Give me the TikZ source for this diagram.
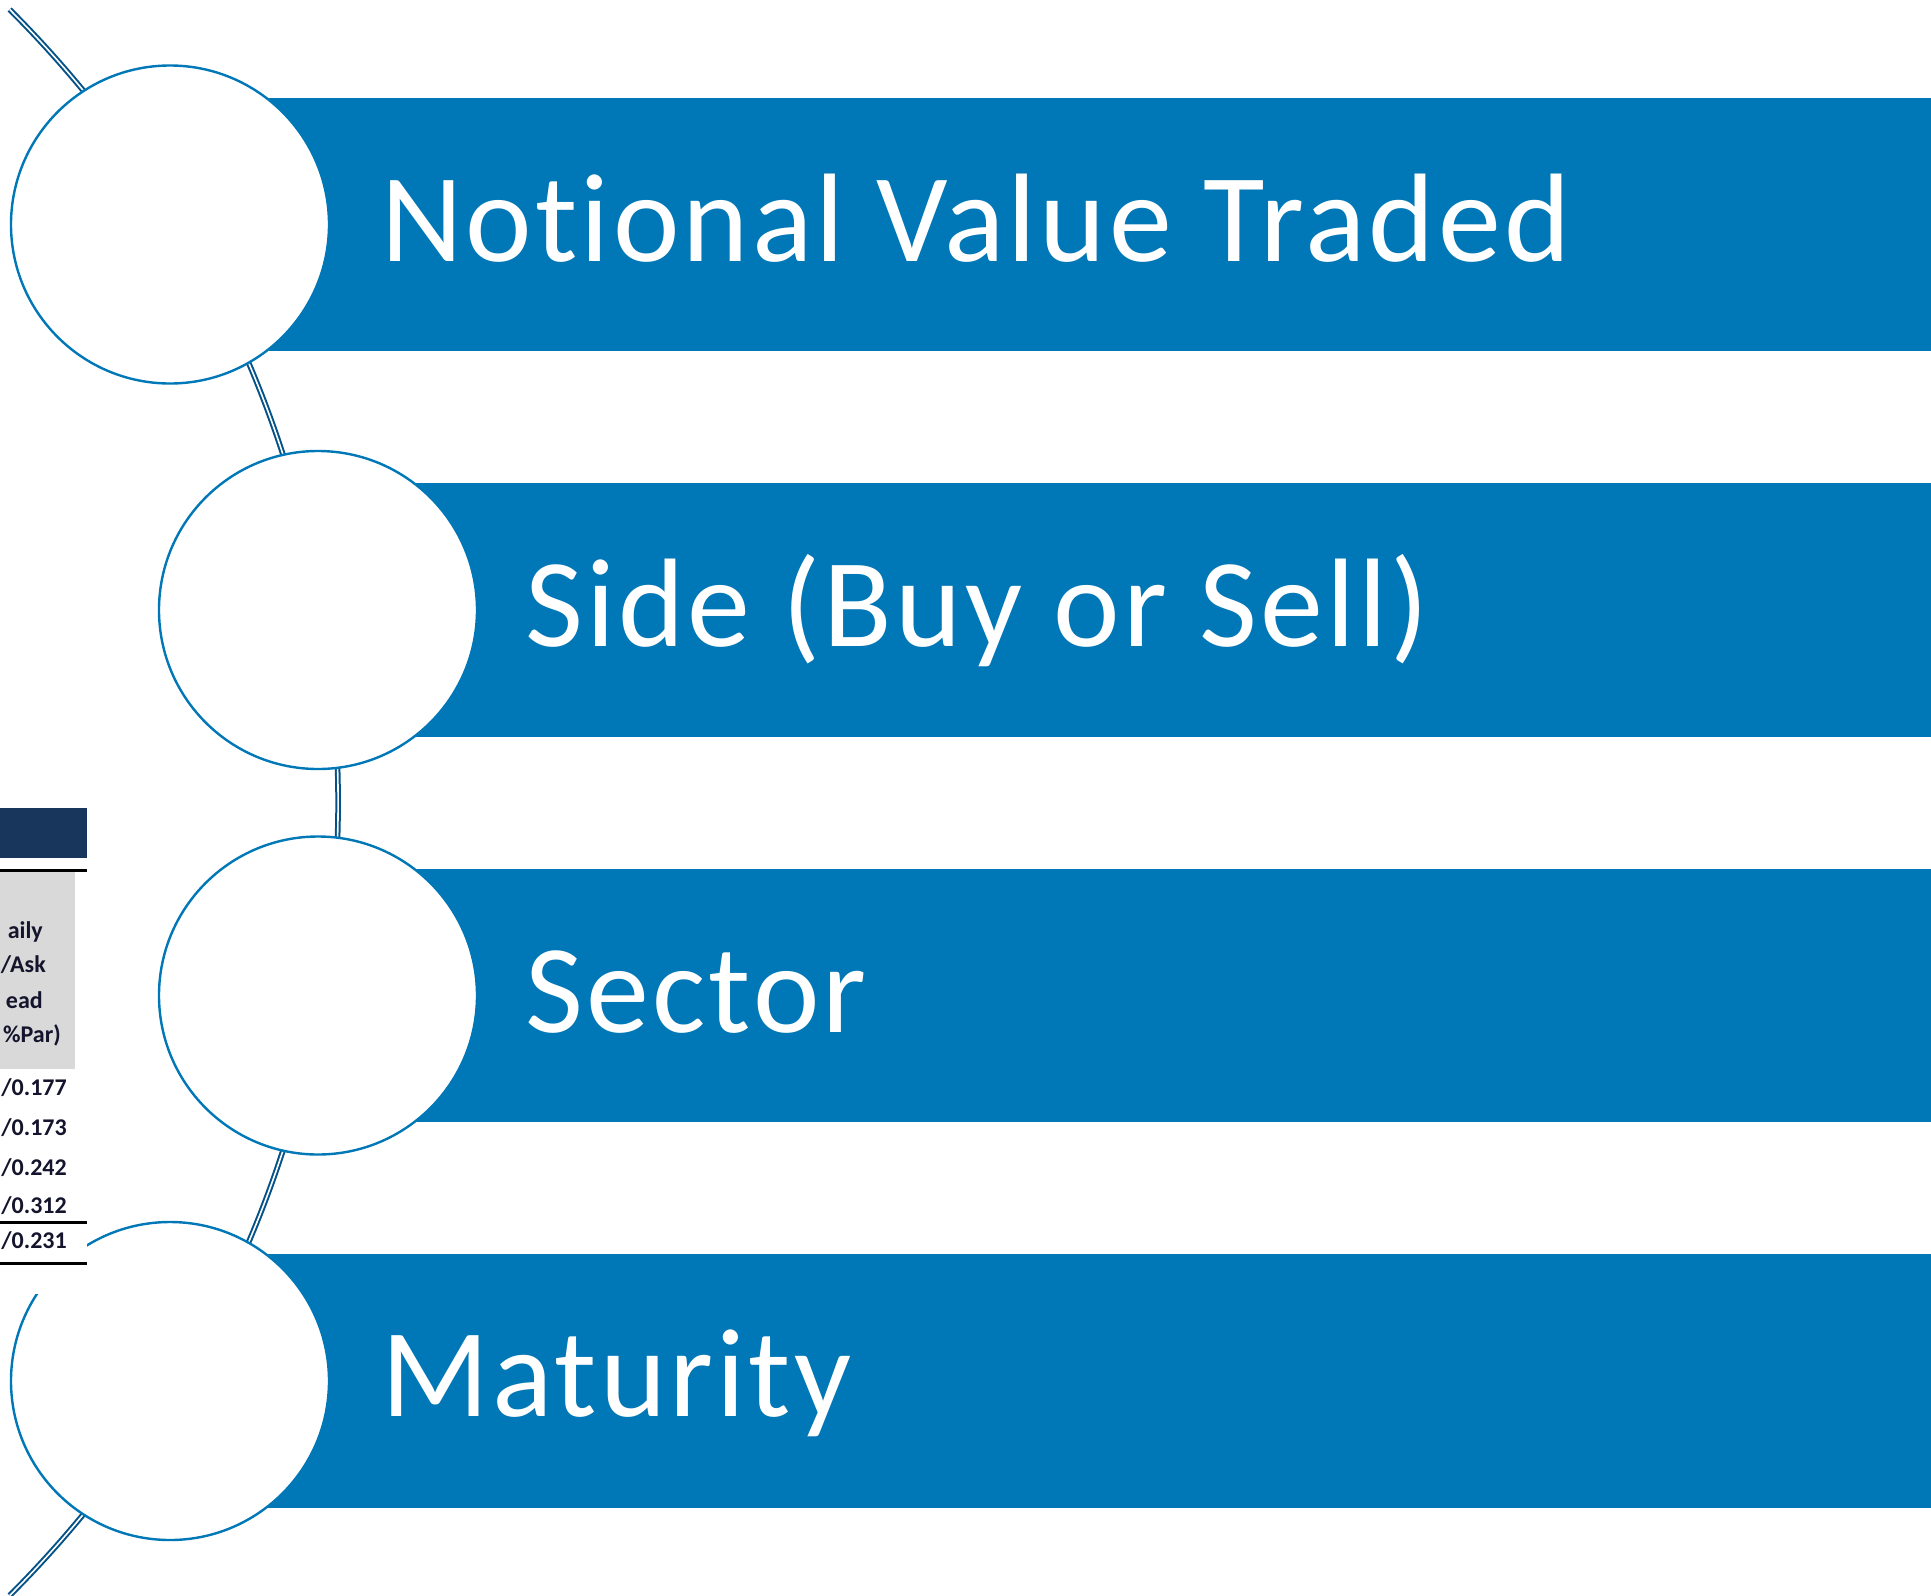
\documentclass[tikz,border=0pt]{standalone}
\usepackage{fontspec}
\setmainfont{Carlito}[Ligatures=CommonOff]
\newfontfamily\itemfont{Carlito}[Ligatures=CommonOff,LetterSpace=2.6]
\usetikzlibrary{positioning}
\definecolor{barblue}{RGB}{0,119,182}
\definecolor{arcblue}{RGB}{4,82,136}
\definecolor{tabnavy}{RGB}{24,54,92}
\definecolor{tabgrey}{RGB}{217,217,217}
\definecolor{tabink}{RGB}{20,20,45}

\begin{document}
\begin{tikzpicture}[x=1pt,y=-1pt,
  itembar/.style={fill=barblue,draw=none,anchor=west,minimum height=253.4pt,inner sep=0pt},
  ring/.style={circle,fill=white,draw=barblue,line width=2.4pt,minimum size=318pt,inner sep=0pt},
  itemtext/.style={font=\itemfont\fontsize{126}{150}\selectfont,text=white,anchor=base west,inner sep=0pt},
  tabtext/.style={font=\fontsize{24}{28}\selectfont\bfseries,text=tabink,anchor=base east,inner sep=0pt}]
\useasboundingbox (0,0) rectangle (1931,1596);
% arc behind the rings
\draw[arcblue,double=white,line width=2pt,double distance=1.6pt]
  (-783.4,802.5) ++(-45:1121.5) arc[start angle=-45,end angle=45,radius=1121.5];
% bars and rings
\foreach \n/\x/\y in {1/170/224.5,2/318/610,3/318/995.5,4/170/1381} {
  \node[itembar,minimum width={1931-\x}] (bar\n) at (\x,\y) {};
  \node[ring] (ring\n) at (\x,\y) {};
}
\node[itemtext] (text1) at (381,261) {Notional Value Traded};
\node[itemtext] (text2) at (525,646.5) {Side (Buy or Sell)};
\node[itemtext] (text3) at (525,1032) {Sector};
\node[itemtext] (text4) at (381,1416) {Maturity};
% table fragment at the left edge
\fill[white] (0,800) rectangle (87,1294);
\fill[tabnavy] (0,808) rectangle (87,858);
\draw[line width=3pt] (0,870) -- (87,870);
\fill[tabgrey] (0,872) rectangle (75,1069);
\draw[line width=3pt] (0,1222) -- (87,1222);
\draw[line width=3pt] (0,1263) -- (87,1263);
\node[tabtext] (hd1) at (43,938) {aily};
\node[tabtext] (hd2) at (46,972) {/Ask};
\node[tabtext] (hd3) at (43,1008) {ead};
\node[tabtext] (hd4) at (61,1042) {\%Par)};
\node[tabtext] (val1) at (67,1095) {/0.177};
\node[tabtext] (val2) at (67,1135) {/0.173};
\node[tabtext] (val3) at (67,1175) {/0.242};
\node[tabtext] (val4) at (67,1213) {/0.312};
\node[tabtext] (val5) at (67,1248) {/0.231};
\end{tikzpicture}
\end{document}
